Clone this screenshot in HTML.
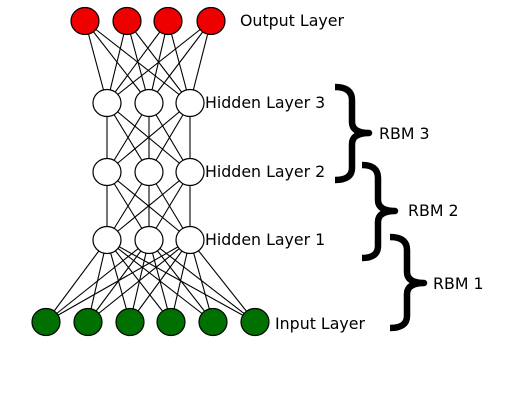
<!DOCTYPE html>
<html><head><meta charset="utf-8"><style>
html,body{margin:0;padding:0;background:#fff;width:505px;height:403px;overflow:hidden}
text{font-family:"DejaVu Sans","Liberation Sans",sans-serif;font-size:15.8px;fill:#000}
</style></head><body>
<svg width="505" height="403" viewBox="0 0 505 403" xmlns="http://www.w3.org/2000/svg">
<g stroke="#000" stroke-width="1.1">
<line x1="85" y1="21" x2="107" y2="103"/><line x1="85" y1="21" x2="149" y2="103"/><line x1="85" y1="21" x2="190" y2="103"/>
<line x1="127" y1="21" x2="107" y2="103"/><line x1="127" y1="21" x2="149" y2="103"/><line x1="127" y1="21" x2="190" y2="103"/>
<line x1="168" y1="21" x2="107" y2="103"/><line x1="168" y1="21" x2="149" y2="103"/><line x1="168" y1="21" x2="190" y2="103"/>
<line x1="211" y1="21" x2="107" y2="103"/><line x1="211" y1="21" x2="149" y2="103"/><line x1="211" y1="21" x2="190" y2="103"/>
<line x1="107" y1="103" x2="107" y2="172"/><line x1="107" y1="103" x2="149" y2="172"/><line x1="107" y1="103" x2="190" y2="172"/>
<line x1="149" y1="103" x2="107" y2="172"/><line x1="149" y1="103" x2="149" y2="172"/><line x1="149" y1="103" x2="190" y2="172"/>
<line x1="190" y1="103" x2="107" y2="172"/><line x1="190" y1="103" x2="149" y2="172"/><line x1="190" y1="103" x2="190" y2="172"/>
<line x1="107" y1="172" x2="107" y2="240"/><line x1="107" y1="172" x2="149" y2="240"/><line x1="107" y1="172" x2="190" y2="240"/>
<line x1="149" y1="172" x2="107" y2="240"/><line x1="149" y1="172" x2="149" y2="240"/><line x1="149" y1="172" x2="190" y2="240"/>
<line x1="190" y1="172" x2="107" y2="240"/><line x1="190" y1="172" x2="149" y2="240"/><line x1="190" y1="172" x2="190" y2="240"/>
<line x1="107" y1="240" x2="46" y2="322"/><line x1="107" y1="240" x2="88" y2="322"/><line x1="107" y1="240" x2="130" y2="322"/><line x1="107" y1="240" x2="171" y2="322"/><line x1="107" y1="240" x2="213" y2="322"/><line x1="107" y1="240" x2="255" y2="322"/>
<line x1="149" y1="240" x2="46" y2="322"/><line x1="149" y1="240" x2="88" y2="322"/><line x1="149" y1="240" x2="130" y2="322"/><line x1="149" y1="240" x2="171" y2="322"/><line x1="149" y1="240" x2="213" y2="322"/><line x1="149" y1="240" x2="255" y2="322"/>
<line x1="190" y1="240" x2="46" y2="322"/><line x1="190" y1="240" x2="88" y2="322"/><line x1="190" y1="240" x2="130" y2="322"/><line x1="190" y1="240" x2="171" y2="322"/><line x1="190" y1="240" x2="213" y2="322"/><line x1="190" y1="240" x2="255" y2="322"/>
</g>
<g stroke="#000" stroke-width="1.2">
<g fill="#ee0000">
<ellipse cx="85" cy="21" rx="14" ry="13.5"/><ellipse cx="127" cy="21" rx="14" ry="13.5"/><ellipse cx="168" cy="21" rx="14" ry="13.5"/><ellipse cx="211" cy="21" rx="14" ry="13.5"/>
</g>
<g fill="#fff">
<ellipse cx="107" cy="103" rx="14" ry="13.5"/><ellipse cx="149" cy="103" rx="14" ry="13.5"/><ellipse cx="190" cy="103" rx="14" ry="13.5"/>
<ellipse cx="107" cy="172" rx="14" ry="13.5"/><ellipse cx="149" cy="172" rx="14" ry="13.5"/><ellipse cx="190" cy="172" rx="14" ry="13.5"/>
<ellipse cx="107" cy="240" rx="14" ry="13.5"/><ellipse cx="149" cy="240" rx="14" ry="13.5"/><ellipse cx="190" cy="240" rx="14" ry="13.5"/>
</g>
<g fill="#007000">
<ellipse cx="46" cy="322" rx="14" ry="13.5"/><ellipse cx="88" cy="322" rx="14" ry="13.5"/><ellipse cx="130" cy="322" rx="14" ry="13.5"/><ellipse cx="171" cy="322" rx="14" ry="13.5"/><ellipse cx="213" cy="322" rx="14" ry="13.5"/><ellipse cx="255" cy="322" rx="14" ry="13.5"/>
</g>
</g>
<g fill="none" stroke="#000" stroke-width="6.5" stroke-linejoin="round">
<path d="M335 87 Q352 87 352 100 L352 122 Q352 133 369 133 Q352 133 352 144 L352 168 Q352 180 335 180"/>
<path d="M362 165 Q378 165 378 178 L378 200 Q378 211 395 211 Q378 211 378 222 L378 246 Q378 258 362 258"/>
<path d="M390 237 Q407 237 407 250 L407 272 Q407 283 424 283 Q407 283 407 294 L407 316 Q407 328 390 328"/>
</g>
<text x="240" y="26">Output Layer</text>
<text x="205" y="108">Hidden Layer 3</text>
<text x="205" y="177">Hidden Layer 2</text>
<text x="205" y="245">Hidden Layer 1</text>
<text x="275" y="329">Input Layer</text>
<text x="379" y="139">RBM 3</text>
<text x="408" y="216">RBM 2</text>
<text x="433" y="289">RBM 1</text>
</svg>
</body></html>
